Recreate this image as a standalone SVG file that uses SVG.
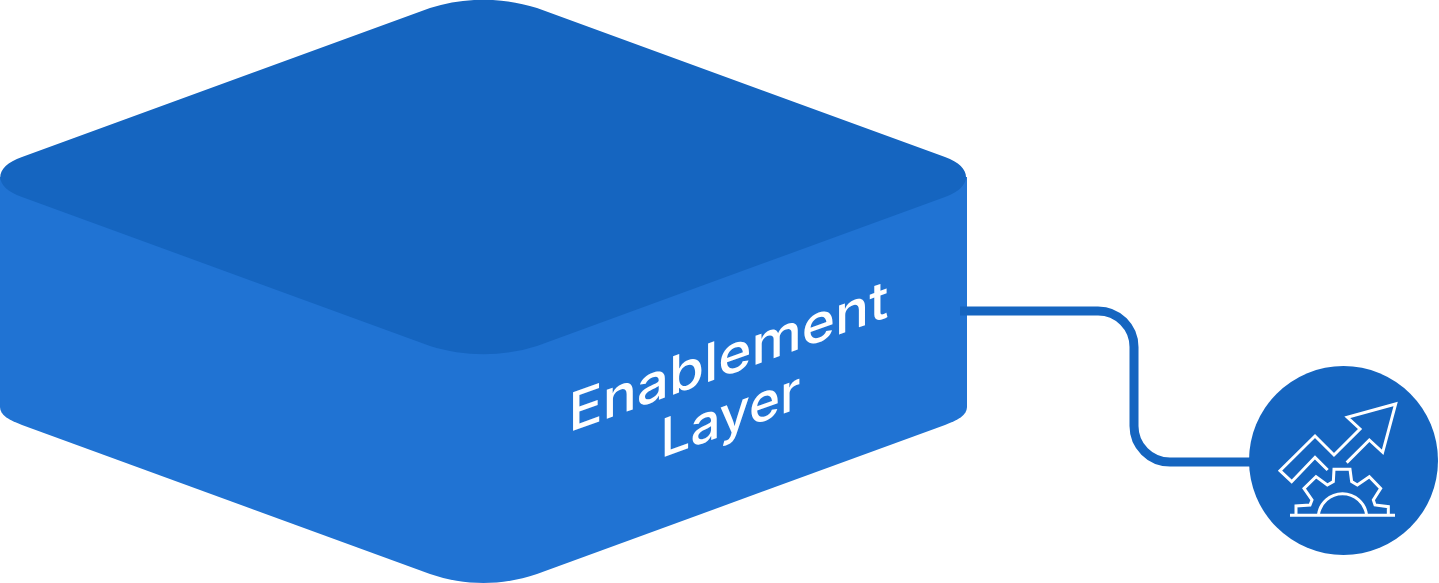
<svg xmlns="http://www.w3.org/2000/svg" width="1439" height="583" viewBox="0 0 1439 583">
  <style>
    .label{font-family:"Inter","Open Sans","Liberation Sans",sans-serif;font-size:53px;font-weight:500;fill:#fff;text-anchor:middle}
    .icon{fill:none;stroke:#fff;stroke-width:9;stroke-linejoin:miter;stroke-linecap:butt}
  </style>
  <g id="connectors">
    <path d="M960 311H1098A36 36 0 0 1 1134 347V426A36 36 0 0 0 1170 462H1252" fill="none" stroke="#1565c0" stroke-width="9"/>
  </g>
  <g id="layer">
    <path d="M0 177V407C0 415 9 420 22 425L430 574C465 586 502 586 537 574L945 425C958 420 967 415 967 407V177Z" fill="#2073d3"/>
    <path d="M430 8C465 -3 502 -3 537 8L945 157C973 167 973 187 945 197L537 346C502 357 465 357 430 346L22 197C-7 187 -7 167 22 157Z" fill="#1565c0"/>
    <path d="M960 306.500H967V315.500H960Z" fill="#1565c0"/>
    <g transform="matrix(1 -0.362 0 1 728.500 374.600)">
      <text class="label" x="0" y="0" textLength="320" lengthAdjust="spacingAndGlyphs">Enablement</text>
      <text class="label" x="2" y="59" textLength="140" lengthAdjust="spacingAndGlyphs">Layer</text>
    </g>
  </g>
  <g id="icon-node">
    <circle cx="1343.500" cy="460.500" r="94.500" fill="#1565c0"/>
    <g transform="translate(1240 360) scale(0.33333)">
      <path class="icon" d="M263 330L225 292L155 365L120 332L225 228L282 285L360 207L322 172L467 132L428 277L388 240L320 308"/>
      <path class="icon" d="M168 462V438L210 435L216 420L192 385L228 350L262 375L280 365L282 328H330L335 365L352 375L388 350L422 385L400 420L405 435L445 440V462"/>
      <path class="icon" d="M235 466A73 73 0 0 1 380 466"/>
      <path class="icon" d="M150 466H465"/>
    </g>
  </g>
</svg>
